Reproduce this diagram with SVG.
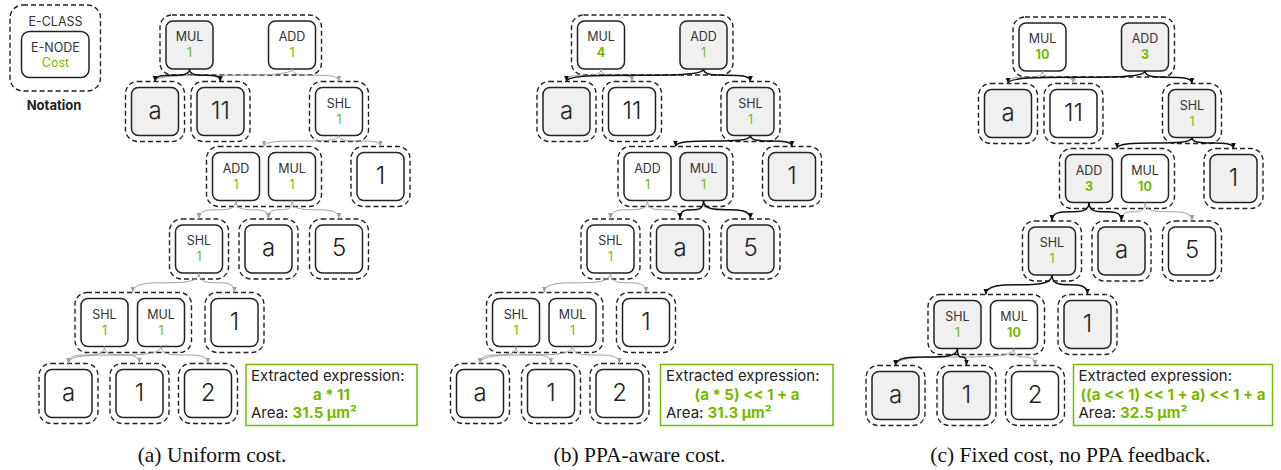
<svg xmlns="http://www.w3.org/2000/svg" width="1281" height="470" viewBox="0 0 1281 470">
  <style>
    .ec { fill: none; stroke: #222; stroke-width: 1.4; stroke-dasharray: 5 3; }
    .en { fill: #fff; stroke: #222; stroke-width: 1.5; }
    .en.sel { fill: #f0f0f0; }
    .op { font-family: Inter, "Noto Sans", sans-serif; font-size: 12.5px; fill: #333; text-anchor: middle; }
    .cost { font-family: Inter, "Noto Sans", sans-serif; font-size: 12.5px; fill: #76b900; text-anchor: middle; }
    .cost.b { font-weight: 700; }
    .leaf { font-family: Inter, "Noto Sans", sans-serif; font-size: 24px; font-weight: 300; fill: #222; text-anchor: middle; }
    .eg { fill: none; stroke: #a0a0a0; stroke-width: 1; marker-end: url(#ag); }
    .eb { fill: none; stroke: #111; stroke-width: 1.5; marker-end: url(#ab); }
    .res { fill: #fff; stroke: #76b900; stroke-width: 1.5; }
    .rt { font-family: Inter, "Noto Sans", sans-serif; font-size: 15px; fill: #222; }
    .rg { font-weight: 700; fill: #76b900; }
    .cap { font-family: "Liberation Serif", "Times New Roman", serif; font-size: 21.5px; fill: #111; text-anchor: middle; }
  </style>
  <defs>
    <marker id="ag" viewBox="0 0 6 6" refX="6" refY="3" markerWidth="6" markerHeight="6" markerUnits="userSpaceOnUse" orient="auto">
      <path d="M0,0.6 L6,3 L0,5.4 Z" fill="#a0a0a0"/>
    </marker>
    <marker id="ab" viewBox="0 0 6 6" refX="6" refY="3" markerWidth="6" markerHeight="6" markerUnits="userSpaceOnUse" orient="auto">
      <path d="M0,0.5 L6,3 L0,5.5 Z" fill="#111"/>
    </marker>
  </defs>

  <rect width="1281" height="470" fill="#fff"/>

  <!-- Legend -->
  <g id="notation">
    <rect class="ec" x="10" y="5" width="90.5" height="86" rx="13"/>
    <text class="op" x="55.5" y="25.5">E-CLASS</text>
    <g id="notation-enode">
      <rect class="en" x="21.5" y="31.5" width="67.5" height="46" rx="8"/>
      <text class="op" x="55.5" y="52">E-NODE</text>
      <text class="cost" x="55.5" y="67">Cost</text>
    </g>
    <text x="54" y="110" font-family="Inter, 'Noto Sans', sans-serif" font-size="13" font-weight="700" fill="#222" text-anchor="middle">Notation</text>
  </g>

  <!-- (a) Uniform cost -->
  <g id="panel-a">
    <g id="a-c1"><rect class="ec" x="160" y="15" width="161.5" height="60" rx="12"/>
      <g id="a-mul1"><rect class="en sel" x="166" y="21" width="47" height="48" rx="7"/><text class="op" x="189.5" y="41">MUL</text><text class="cost" x="189.5" y="57">1</text></g>
      <g id="a-add1"><rect class="en" x="268.5" y="21" width="47" height="48" rx="7"/><text class="op" x="292" y="41">ADD</text><text class="cost" x="292" y="57">1</text></g>
    </g>
    <g id="a-c2a"><rect class="ec" x="125.5" y="81.5" width="59" height="60" rx="12"/>
      <g id="a-a2"><rect class="en sel" x="131.5" y="87.5" width="47" height="48" rx="7"/><text class="leaf" x="155" y="118.5">a</text></g></g>
    <g id="a-c2b"><rect class="ec" x="191" y="81.5" width="59" height="60" rx="12"/>
      <g id="a-n11"><rect class="en sel" x="197" y="87.5" width="47" height="48" rx="7"/><text class="leaf" x="220.5" y="118.5">11</text></g></g>
    <g id="a-c2c"><rect class="ec" x="309.5" y="81.5" width="59" height="60" rx="12"/>
      <g id="a-shl2"><rect class="en" x="315.5" y="87.5" width="47" height="48" rx="7"/><text class="op" x="339" y="108">SHL</text><text class="cost" x="339" y="124">1</text></g></g>
    <g id="a-c3"><rect class="ec" x="206.5" y="146.5" width="115" height="60" rx="12"/>
      <g id="a-add3"><rect class="en" x="212.5" y="152.5" width="47" height="48" rx="7"/><text class="op" x="236" y="172.5">ADD</text><text class="cost" x="236" y="188.5">1</text></g>
      <g id="a-mul3"><rect class="en" x="268.5" y="152.5" width="47" height="48" rx="7"/><text class="op" x="292" y="172.5">MUL</text><text class="cost" x="292" y="188.5">1</text></g>
    </g>
    <g id="a-c3b"><rect class="ec" x="351" y="146.5" width="59" height="60" rx="12"/>
      <g id="a-one3"><rect class="en" x="357" y="152.5" width="47" height="48" rx="7"/><text class="leaf" x="380.5" y="183.5">1</text></g></g>
    <g id="a-c4a"><rect class="ec" x="169.5" y="219" width="59" height="60" rx="12"/>
      <g id="a-shl4"><rect class="en" x="175.5" y="225" width="47" height="48" rx="7"/><text class="op" x="199" y="245">SHL</text><text class="cost" x="199" y="261">1</text></g></g>
    <g id="a-c4b"><rect class="ec" x="239" y="219" width="59" height="60" rx="12"/>
      <g id="a-a4"><rect class="en" x="245" y="225" width="47" height="48" rx="7"/><text class="leaf" x="268.5" y="256">a</text></g></g>
    <g id="a-c4c"><rect class="ec" x="309.5" y="219" width="59" height="60" rx="12"/>
      <g id="a-five4"><rect class="en" x="315.5" y="225" width="47" height="48" rx="7"/><text class="leaf" x="339" y="256">5</text></g></g>
    <g id="a-c5"><rect class="ec" x="75" y="292.5" width="116.5" height="60" rx="12"/>
      <g id="a-shl5"><rect class="en" x="81" y="298.5" width="47" height="48" rx="7"/><text class="op" x="104.5" y="318.5">SHL</text><text class="cost" x="104.5" y="334.5">1</text></g>
      <g id="a-mul5"><rect class="en" x="137.5" y="298.5" width="47" height="48" rx="7"/><text class="op" x="161" y="318.5">MUL</text><text class="cost" x="161" y="334.5">1</text></g>
    </g>
    <g id="a-c5b"><rect class="ec" x="205" y="292.5" width="59" height="60" rx="12"/>
      <g id="a-one5"><rect class="en" x="211" y="298.5" width="47" height="48" rx="7"/><text class="leaf" x="234.5" y="329.5">1</text></g></g>
    <g id="a-c6a"><rect class="ec" x="39" y="363.5" width="59" height="60" rx="12"/>
      <g id="a-a6"><rect class="en" x="45" y="369.5" width="47" height="48" rx="7"/><text class="leaf" x="68.5" y="400.5">a</text></g></g>
    <g id="a-c6b"><rect class="ec" x="110" y="363.5" width="59" height="60" rx="12"/>
      <g id="a-one6"><rect class="en" x="116" y="369.5" width="47" height="48" rx="7"/><text class="leaf" x="139.5" y="400.5">1</text></g></g>
    <g id="a-c6c"><rect class="ec" x="178.5" y="363.5" width="59" height="60" rx="12"/>
      <g id="a-two6"><rect class="en" x="184.5" y="369.5" width="47" height="48" rx="7"/><text class="leaf" x="208" y="400.5">2</text></g></g>

    <g id="a-edges">
      <path class="eg" d="M292,69 C292,81.5 155,69 155,81.5"/>
      <path class="eg" d="M292,69 C292,81.5 339,69 339,81.5"/>
      <path class="eg" d="M339,135.5 C339,146.5 264,135.5 264,146.5"/>
      <path class="eg" d="M339,135.5 C339,146.5 380.5,135.5 380.5,146.5"/>
      <path class="eg" d="M236,200.5 C236,219 199,200.5 199,219"/>
      <path class="eg" d="M236,200.5 C236,219 268.5,200.5 268.5,219"/>
      <path class="eg" d="M292,200.5 C292,219 268.5,200.5 268.5,219"/>
      <path class="eg" d="M292,200.5 C292,219 339,200.5 339,219"/>
      <path class="eg" d="M199,273 C199,292.5 132.75,273 132.75,292.5"/>
      <path class="eg" d="M199,273 C199,292.5 234.5,273 234.5,292.5"/>
      <path class="eg" d="M104.5,346.5 C104.5,363.5 68.5,346.5 68.5,363.5"/>
      <path class="eg" d="M104.5,346.5 C104.5,363.5 139.5,346.5 139.5,363.5"/>
      <path class="eg" d="M161,346.5 C161,363.5 68.5,346.5 68.5,363.5"/>
      <path class="eg" d="M161,346.5 C161,363.5 208,346.5 208,363.5"/>
      <path class="eb" d="M189.5,69 C189.5,81.5 155,69 155,81.5"/>
      <path class="eb" d="M189.5,69 C189.5,81.5 220.5,69 220.5,81.5"/>
    </g>

    <g id="a-result">
      <rect class="res" x="246" y="364.5" width="171" height="61"/>
      <text class="rt" x="251" y="381">Extracted expression:</text>
      <text class="rt rg" x="331.5" y="399.5" text-anchor="middle">a * 11</text>
      <text class="rt" x="251" y="418">Area: <tspan class="rg">31.5 µm²</tspan></text>
    </g>
    <text class="cap" x="212" y="462">(a) Uniform cost.</text>
  </g>

  <!-- (b) PPA-aware cost -->
  <g id="panel-b">
    <g transform="translate(411.5,0)">
      <g id="b-c1"><rect class="ec" x="160" y="15" width="161.5" height="60" rx="12"/>
        <g id="b-mul1"><rect class="en" x="166" y="21" width="47" height="48" rx="7"/><text class="op" x="189.5" y="41">MUL</text><text class="cost b" x="189.5" y="57">4</text></g>
        <g id="b-add1"><rect class="en sel" x="268.5" y="21" width="47" height="48" rx="7"/><text class="op" x="292" y="41">ADD</text><text class="cost" x="292" y="57">1</text></g>
      </g>
      <g id="b-c2a"><rect class="ec" x="125.5" y="81.5" width="59" height="60" rx="12"/>
        <g id="b-a2"><rect class="en sel" x="131.5" y="87.5" width="47" height="48" rx="7"/><text class="leaf" x="155" y="118.5">a</text></g></g>
      <g id="b-c2b"><rect class="ec" x="191" y="81.5" width="59" height="60" rx="12"/>
        <g id="b-n11"><rect class="en" x="197" y="87.5" width="47" height="48" rx="7"/><text class="leaf" x="220.5" y="118.5">11</text></g></g>
      <g id="b-c2c"><rect class="ec" x="309.5" y="81.5" width="59" height="60" rx="12"/>
        <g id="b-shl2"><rect class="en sel" x="315.5" y="87.5" width="47" height="48" rx="7"/><text class="op" x="339" y="108">SHL</text><text class="cost" x="339" y="124">1</text></g></g>
      <g id="b-c3"><rect class="ec" x="206.5" y="146.5" width="115" height="60" rx="12"/>
        <g id="b-add3"><rect class="en" x="212.5" y="152.5" width="47" height="48" rx="7"/><text class="op" x="236" y="172.5">ADD</text><text class="cost" x="236" y="188.5">1</text></g>
        <g id="b-mul3"><rect class="en sel" x="268.5" y="152.5" width="47" height="48" rx="7"/><text class="op" x="292" y="172.5">MUL</text><text class="cost" x="292" y="188.5">1</text></g>
      </g>
      <g id="b-c3b"><rect class="ec" x="351" y="146.5" width="59" height="60" rx="12"/>
        <g id="b-one3"><rect class="en sel" x="357" y="152.5" width="47" height="48" rx="7"/><text class="leaf" x="380.5" y="183.5">1</text></g></g>
      <g id="b-c4a"><rect class="ec" x="169.5" y="219" width="59" height="60" rx="12"/>
        <g id="b-shl4"><rect class="en" x="175.5" y="225" width="47" height="48" rx="7"/><text class="op" x="199" y="245">SHL</text><text class="cost" x="199" y="261">1</text></g></g>
      <g id="b-c4b"><rect class="ec" x="239" y="219" width="59" height="60" rx="12"/>
        <g id="b-a4"><rect class="en sel" x="245" y="225" width="47" height="48" rx="7"/><text class="leaf" x="268.5" y="256">a</text></g></g>
      <g id="b-c4c"><rect class="ec" x="309.5" y="219" width="59" height="60" rx="12"/>
        <g id="b-five4"><rect class="en sel" x="315.5" y="225" width="47" height="48" rx="7"/><text class="leaf" x="339" y="256">5</text></g></g>
      <g id="b-c5"><rect class="ec" x="75" y="292.5" width="116.5" height="60" rx="12"/>
        <g id="b-shl5"><rect class="en" x="81" y="298.5" width="47" height="48" rx="7"/><text class="op" x="104.5" y="318.5">SHL</text><text class="cost" x="104.5" y="334.5">1</text></g>
        <g id="b-mul5"><rect class="en" x="137.5" y="298.5" width="47" height="48" rx="7"/><text class="op" x="161" y="318.5">MUL</text><text class="cost" x="161" y="334.5">1</text></g>
      </g>
      <g id="b-c5b"><rect class="ec" x="205" y="292.5" width="59" height="60" rx="12"/>
        <g id="b-one5"><rect class="en" x="211" y="298.5" width="47" height="48" rx="7"/><text class="leaf" x="234.5" y="329.5">1</text></g></g>
      <g id="b-c6a"><rect class="ec" x="39" y="363.5" width="59" height="60" rx="12"/>
        <g id="b-a6"><rect class="en" x="45" y="369.5" width="47" height="48" rx="7"/><text class="leaf" x="68.5" y="400.5">a</text></g></g>
      <g id="b-c6b"><rect class="ec" x="110" y="363.5" width="59" height="60" rx="12"/>
        <g id="b-one6"><rect class="en" x="116" y="369.5" width="47" height="48" rx="7"/><text class="leaf" x="139.5" y="400.5">1</text></g></g>
      <g id="b-c6c"><rect class="ec" x="178.5" y="363.5" width="59" height="60" rx="12"/>
        <g id="b-two6"><rect class="en" x="184.5" y="369.5" width="47" height="48" rx="7"/><text class="leaf" x="208" y="400.5">2</text></g></g>

      <g id="b-edges">
        <path class="eg" d="M189.5,69 C189.5,81.5 155,69 155,81.5"/>
        <path class="eg" d="M189.5,69 C189.5,81.5 220.5,69 220.5,81.5"/>
        <path class="eg" d="M236,200.5 C236,219 199,200.5 199,219"/>
        <path class="eg" d="M236,200.5 C236,219 268.5,200.5 268.5,219"/>
        <path class="eg" d="M199,273 C199,292.5 132.75,273 132.75,292.5"/>
        <path class="eg" d="M199,273 C199,292.5 234.5,273 234.5,292.5"/>
        <path class="eg" d="M104.5,346.5 C104.5,363.5 68.5,346.5 68.5,363.5"/>
        <path class="eg" d="M104.5,346.5 C104.5,363.5 139.5,346.5 139.5,363.5"/>
        <path class="eg" d="M161,346.5 C161,363.5 68.5,346.5 68.5,363.5"/>
        <path class="eg" d="M161,346.5 C161,363.5 208,346.5 208,363.5"/>
        <path class="eb" d="M292,69 C292,81.5 155,69 155,81.5"/>
        <path class="eb" d="M292,69 C292,81.5 339,69 339,81.5"/>
        <path class="eb" d="M339,135.5 C339,146.5 264,135.5 264,146.5"/>
        <path class="eb" d="M339,135.5 C339,146.5 380.5,135.5 380.5,146.5"/>
        <path class="eb" d="M292,200.5 C292,219 268.5,200.5 268.5,219"/>
        <path class="eb" d="M292,200.5 C292,219 339,200.5 339,219"/>
      </g>
    </g>
    <g id="b-result">
      <rect class="res" x="660.5" y="364.5" width="172.5" height="61"/>
      <text class="rt" x="666" y="381">Extracted expression:</text>
      <text class="rt rg" x="747" y="399.5" text-anchor="middle">(a * 5) &lt;&lt; 1 + a</text>
      <text class="rt" x="666" y="418">Area: <tspan class="rg">31.3 µm²</tspan></text>
    </g>
    <text class="cap" x="639.5" y="462">(b) PPA-aware cost.</text>
  </g>

  <!-- (c) Fixed cost, no PPA feedback -->
  <g id="panel-c">
    <g transform="translate(853,2)">
      <g id="c-c1"><rect class="ec" x="160" y="15" width="161.5" height="60" rx="12"/>
        <g id="c-mul1"><rect class="en" x="166" y="21" width="47" height="48" rx="7"/><text class="op" x="189.5" y="41">MUL</text><text class="cost b" x="189.5" y="57">10</text></g>
        <g id="c-add1"><rect class="en sel" x="268.5" y="21" width="47" height="48" rx="7"/><text class="op" x="292" y="41">ADD</text><text class="cost b" x="292" y="57">3</text></g>
      </g>
      <g id="c-c2a"><rect class="ec" x="125.5" y="81.5" width="59" height="60" rx="12"/>
        <g id="c-a2"><rect class="en sel" x="131.5" y="87.5" width="47" height="48" rx="7"/><text class="leaf" x="155" y="118.5">a</text></g></g>
      <g id="c-c2b"><rect class="ec" x="191" y="81.5" width="59" height="60" rx="12"/>
        <g id="c-n11"><rect class="en" x="197" y="87.5" width="47" height="48" rx="7"/><text class="leaf" x="220.5" y="118.5">11</text></g></g>
      <g id="c-c2c"><rect class="ec" x="309.5" y="81.5" width="59" height="60" rx="12"/>
        <g id="c-shl2"><rect class="en sel" x="315.5" y="87.5" width="47" height="48" rx="7"/><text class="op" x="339" y="108">SHL</text><text class="cost" x="339" y="124">1</text></g></g>
      <g id="c-c3"><rect class="ec" x="206.5" y="146.5" width="115" height="60" rx="12"/>
        <g id="c-add3"><rect class="en sel" x="212.5" y="152.5" width="47" height="48" rx="7"/><text class="op" x="236" y="172.5">ADD</text><text class="cost b" x="236" y="188.5">3</text></g>
        <g id="c-mul3"><rect class="en" x="268.5" y="152.5" width="47" height="48" rx="7"/><text class="op" x="292" y="172.5">MUL</text><text class="cost b" x="292" y="188.5">10</text></g>
      </g>
      <g id="c-c3b"><rect class="ec" x="351" y="146.5" width="59" height="60" rx="12"/>
        <g id="c-one3"><rect class="en sel" x="357" y="152.5" width="47" height="48" rx="7"/><text class="leaf" x="380.5" y="183.5">1</text></g></g>
      <g id="c-c4a"><rect class="ec" x="169.5" y="219" width="59" height="60" rx="12"/>
        <g id="c-shl4"><rect class="en sel" x="175.5" y="225" width="47" height="48" rx="7"/><text class="op" x="199" y="245">SHL</text><text class="cost" x="199" y="261">1</text></g></g>
      <g id="c-c4b"><rect class="ec" x="239" y="219" width="59" height="60" rx="12"/>
        <g id="c-a4"><rect class="en sel" x="245" y="225" width="47" height="48" rx="7"/><text class="leaf" x="268.5" y="256">a</text></g></g>
      <g id="c-c4c"><rect class="ec" x="309.5" y="219" width="59" height="60" rx="12"/>
        <g id="c-five4"><rect class="en" x="315.5" y="225" width="47" height="48" rx="7"/><text class="leaf" x="339" y="256">5</text></g></g>
      <g id="c-c5"><rect class="ec" x="75" y="292.5" width="116.5" height="60" rx="12"/>
        <g id="c-shl5"><rect class="en sel" x="81" y="298.5" width="47" height="48" rx="7"/><text class="op" x="104.5" y="318.5">SHL</text><text class="cost" x="104.5" y="334.5">1</text></g>
        <g id="c-mul5"><rect class="en" x="137.5" y="298.5" width="47" height="48" rx="7"/><text class="op" x="161" y="318.5">MUL</text><text class="cost b" x="161" y="334.5">10</text></g>
      </g>
      <g id="c-c5b"><rect class="ec" x="205" y="292.5" width="59" height="60" rx="12"/>
        <g id="c-one5"><rect class="en sel" x="211" y="298.5" width="47" height="48" rx="7"/><text class="leaf" x="234.5" y="329.5">1</text></g></g>
      <g id="c-c6a"><rect class="ec" x="13" y="363.5" width="59" height="60" rx="12"/>
        <g id="c-a6"><rect class="en sel" x="19" y="369.5" width="47" height="48" rx="7"/><text class="leaf" x="42.5" y="400.5">a</text></g></g>
      <g id="c-c6b"><rect class="ec" x="84" y="363.5" width="59" height="60" rx="12"/>
        <g id="c-one6"><rect class="en sel" x="90" y="369.5" width="47" height="48" rx="7"/><text class="leaf" x="113.5" y="400.5">1</text></g></g>
      <g id="c-c6c"><rect class="ec" x="152.5" y="363.5" width="59" height="60" rx="12"/>
        <g id="c-two6"><rect class="en" x="158.5" y="369.5" width="47" height="48" rx="7"/><text class="leaf" x="182" y="400.5">2</text></g></g>

      <g id="c-edges">
        <path class="eg" d="M189.5,69 C189.5,81.5 155,69 155,81.5"/>
        <path class="eg" d="M189.5,69 C189.5,81.5 220.5,69 220.5,81.5"/>
        <path class="eg" d="M292,200.5 C292,219 268.5,200.5 268.5,219"/>
        <path class="eg" d="M292,200.5 C292,219 339,200.5 339,219"/>
        <path class="eg" d="M161,346.5 C161,363.5 42.5,346.5 42.5,363.5"/>
        <path class="eg" d="M161,346.5 C161,363.5 182,346.5 182,363.5"/>
        <path class="eb" d="M292,69 C292,81.5 155,69 155,81.5"/>
        <path class="eb" d="M292,69 C292,81.5 339,69 339,81.5"/>
        <path class="eb" d="M339,135.5 C339,146.5 264,135.5 264,146.5"/>
        <path class="eb" d="M339,135.5 C339,146.5 380.5,135.5 380.5,146.5"/>
        <path class="eb" d="M236,200.5 C236,219 199,200.5 199,219"/>
        <path class="eb" d="M236,200.5 C236,219 268.5,200.5 268.5,219"/>
        <path class="eb" d="M199,273 C199,292.5 132.75,273 132.75,292.5"/>
        <path class="eb" d="M199,273 C199,292.5 234.5,273 234.5,292.5"/>
        <path class="eb" d="M104.5,346.5 C104.5,363.5 42.5,346.5 42.5,363.5"/>
        <path class="eb" d="M104.5,346.5 C104.5,363.5 113.5,346.5 113.5,363.5"/>
      </g>
    </g>
    <g id="c-result">
      <rect class="res" x="1073.5" y="364.5" width="199" height="61"/>
      <text class="rt" x="1078.5" y="381">Extracted expression:</text>
      <text class="rt rg" x="1173" y="399.5" text-anchor="middle">((a &lt;&lt; 1) &lt;&lt; 1 + a) &lt;&lt; 1 + a</text>
      <text class="rt" x="1078.5" y="418">Area: <tspan class="rg">32.5 µm²</tspan></text>
    </g>
    <text class="cap" x="1070.5" y="462">(c) Fixed cost, no PPA feedback.</text>
  </g>
</svg>
